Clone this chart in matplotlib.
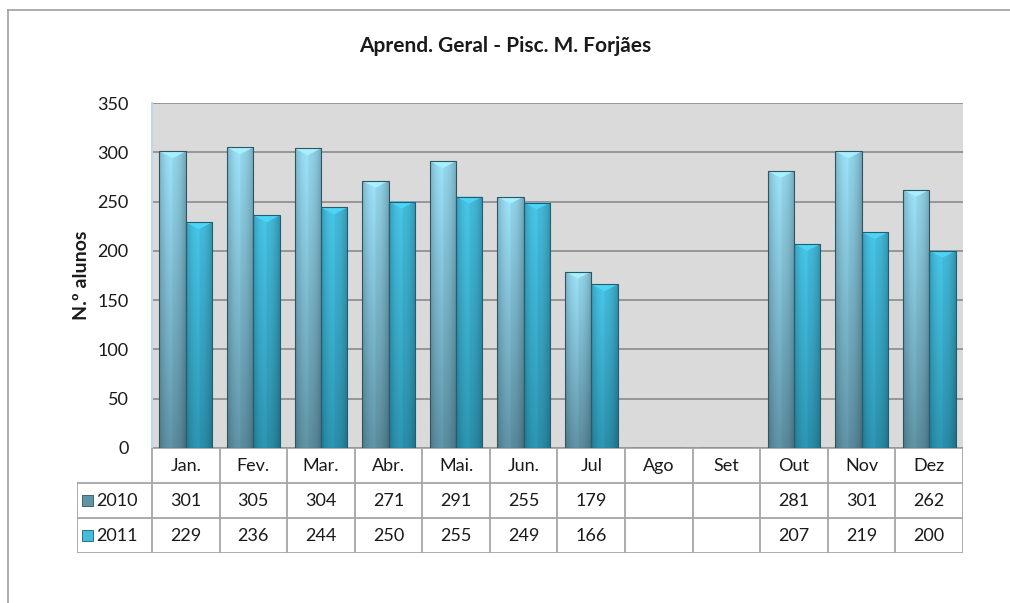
import matplotlib
matplotlib.use("Agg")
import matplotlib.pyplot as plt
import numpy as np
from matplotlib.patches import Rectangle

plt.rcParams['font.family'] = ['Lato', 'DejaVu Sans']

months = ["Jan.", "Fev.", "Mar.", "Abr.", "Mai.", "Jun.", "Jul", "Ago", "Set", "Out", "Nov", "Dez"]
series_names = ["2010", "2011"]
alunos_2010 = [301, 305, 304, 271, 291, 255, 179, None, None, 281, 301, 262]
alunos_2011 = [229, 236, 244, 250, 255, 249, 166, None, None, 207, 219, 200]

# top / bottom colours for each series (gradient)
top_cols = [np.array([0x94, 0xd6, 0xec]) / 255, np.array([0x44, 0xbc, 0xdc]) / 255]
bot_cols = [np.array([0x5a, 0x8c, 0x9e]) / 255, np.array([0x2a, 0x8e, 0xaa]) / 255]
edge_cols = ["#2f5560", "#1f5f70"]
txt = "#1a1a1a"

W, H = 1010, 603
fig = plt.figure(figsize=(W / 100, H / 100), dpi=100)

# outer chart frame (only top and left visible)
fig.add_artist(plt.Line2D([8 / W, 8 / W], [0, 1 - 10 / H], color="#a0a0a0", lw=1.2))
fig.add_artist(plt.Line2D([8 / W, 1], [1 - 10 / H, 1 - 10 / H], color="#a0a0a0", lw=1.2))

x0, x1 = 152, 963
y_top, y_bot = 103, 448
ax = fig.add_axes([x0 / W, 1 - y_bot / H, (x1 - x0) / W, (y_bot - y_top) / H])
ax.set_facecolor("#dadada")
ax.set_xlim(-0.5, len(months) - 0.5)
ax.set_ylim(0, 350)
ax.set_yticks(np.arange(0, 351, 50))
ax.tick_params(axis="y", length=0, labelsize=13, pad=17, colors=txt)
ax.set_xticks([])
ax.grid(axis="y", color="#8a8a8a", lw=1.2)
ax.set_axisbelow(True)
for s in ["top", "right", "bottom"]:
    ax.spines[s].set_visible(False)
ax.spines["left"].set_color("#bcd8e4")
ax.spines["left"].set_linewidth(1.5)
ax.set_ylabel("N.º alunos", fontsize=14, fontweight="bold", labelpad=5, color=txt)
fig.text(0.5, 1 - 46 / H, "Aprend. Geral - Pisc. M. Forjães", ha="center", va="center",
         fontsize=15, fontweight="bold", color=txt)

x = np.arange(len(months))
bw = 0.39


def gradient_img(top, bot, nx=40, ny=200):
    t = np.linspace(0, 1, ny)[:, None]
    base = top[None, None, :] * (1 - t[..., None]) + bot[None, None, :] * t[..., None]
    u = np.linspace(-1, 1, nx)[None, :]
    shade = 1 - 0.22 * u ** 2 + 0.06 * (u < 0)
    img = base * shade[..., None]
    return np.clip(img, 0, 1)


for k, vals in enumerate([alunos_2010, alunos_2011]):
    off = -bw / 2 if k == 0 else bw / 2
    hs = [v if v is not None else 0 for v in vals]
    bars = ax.bar(x + off, hs, bw, color="none", edgecolor=edge_cols[k], lw=0.8, zorder=3)
    img = gradient_img(top_cols[k], bot_cols[k])
    for b, v in zip(bars, vals):
        if v is None:
            continue
        bx, by, bwid, bh = b.get_x(), b.get_y(), b.get_width(), b.get_height()
        im = ax.imshow(img, extent=[bx, bx + bwid, 0, bh], aspect="auto", zorder=2,
                       origin="upper", interpolation="bilinear")
        clip = Rectangle((bx, 0), bwid, bh, transform=ax.transData)
        im.set_clip_path(clip)
        # bevel on top
        tri_h = 7.0
        ax.fill([bx, bx + bwid, bx + bwid * 0.5], [bh, bh, bh - tri_h],
                color=np.clip(top_cols[k] * 1.12, 0, 1), zorder=2.5, lw=0)
ax.set_xlim(-0.5, len(months) - 0.5)
ax.set_ylim(0, 350)

# data table below the plot
tab = fig.add_axes([77 / W, 1 - 553 / H, (x1 - 77) / W, (553 - 448) / H])
tab.set_xlim(77, x1)
tab.set_ylim(553, 448)
tab.axis("off")
col_w = (x1 - x0) / len(months)
row_edges = [448, 483, 518, 553]
lc = "#a6a6a6"
for i in range(len(months) + 1):
    xe = x0 + i * col_w
    tab.plot([xe, xe], [448, 553], color=lc, lw=1.3)
tab.plot([77, 77], [483, 553], color=lc, lw=1.3)
for j, ye in enumerate(row_edges):
    xs = x0 if j == 0 else 77
    tab.plot([xs, x1], [ye, ye], color=lc, lw=1.3)
for i, m in enumerate(months):
    xc = x0 + (i + 0.5) * col_w
    tab.text(xc, 466, m, ha="center", va="center", fontsize=13, color=txt)
    for r, vals in enumerate([alunos_2010, alunos_2011]):
        v = vals[i]
        if v is not None:
            tab.text(xc, 501 + r * 35, str(v), ha="center", va="center", fontsize=13, color=txt)
for r, name in enumerate(series_names):
    yc = 501 + r * 35
    tab.add_patch(Rectangle((82, yc - 6), 11, 11, facecolor=bot_cols[r] * 1.05 if r == 0 else top_cols[r],
                            edgecolor=edge_cols[r], lw=0.6))
    tab.text(96, yc, name, ha="left", va="center", fontsize=13, color=txt)

fig.savefig("out.png", dpi=100)
